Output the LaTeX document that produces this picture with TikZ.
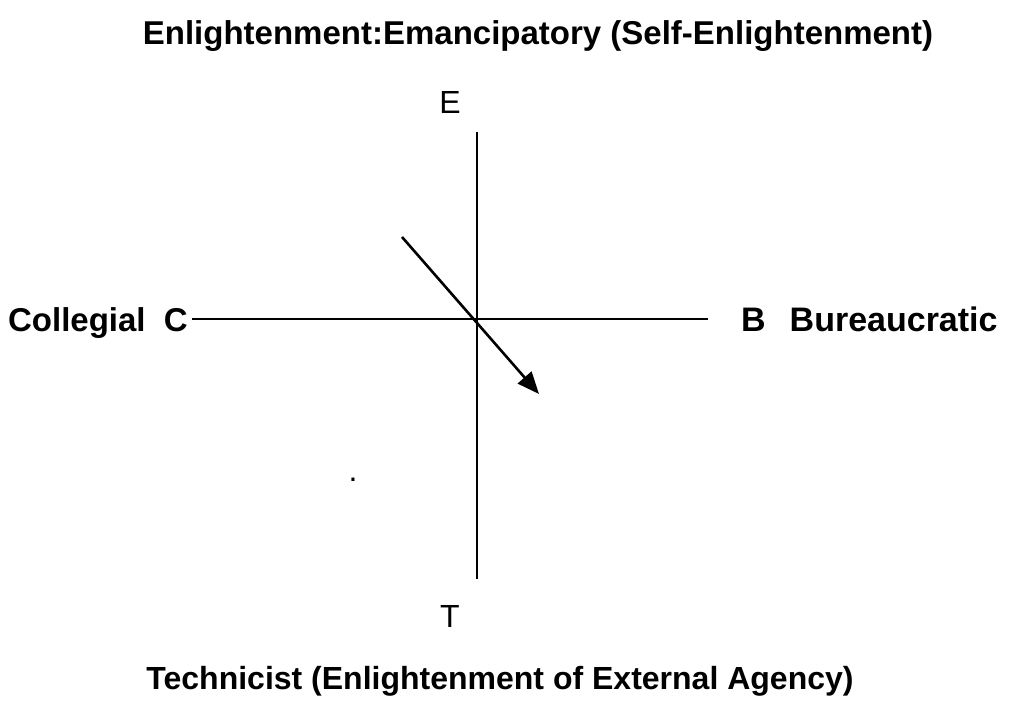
\documentclass[tikz,border=0pt]{standalone}
\usepackage{fontspec}
\setmainfont{Liberation Sans}
\usetikzlibrary{arrows.meta}

\begin{document}
\begin{tikzpicture}[
        x=1pt, y=-1pt,
        heading/.style={font=\bfseries\fontsize{33}{38}\selectfont, inner sep=0pt},
        pole/.style={font=\fontsize{32}{36}\selectfont, inner sep=0pt},
        axis/.style={line width=1.6pt},
        drift/.style={-{Triangle[length=22pt, width=18pt]}, line width=2.6pt},
    ]
        \useasboundingbox (0,0) rectangle (1014,708);

        \node[heading, anchor=base] (emanc) at (538,45) {Enlightenment:Emancipatory (Self-Enlightenment)};
        \node[heading, anchor=base, font=\bfseries\fontsize{32}{38}\selectfont] (techn) at (500,689) {Technicist (Enlightenment of External Agency)};
        \node[heading, anchor=base east] (coll) at (188,331) {Collegial\ \ C};
        \node[heading, anchor=base west, font=\bfseries\fontsize{34}{38}\selectfont] (bur) at (741,331) {B\hspace{24pt}Bureaucratic};

        \node[pole] (e) at (450,102) {E};
        \node[pole] (t) at (450,616) {T};
        \node[pole, anchor=base] (dot) at (353,481) {.};

        \coordinate (etop) at (477,132);
        \coordinate (tbot) at (477,579);
        \coordinate (cleft) at (192,319);
        \coordinate (bright) at (708,319);
        \coordinate (from) at (402,237);
        \coordinate (to) at (539,394);

        \draw[axis] (etop) -- (tbot);
        \draw[axis] (cleft) -- (bright);
        \draw[drift] (from) -- (to);
    \end{tikzpicture}
\end{document}
